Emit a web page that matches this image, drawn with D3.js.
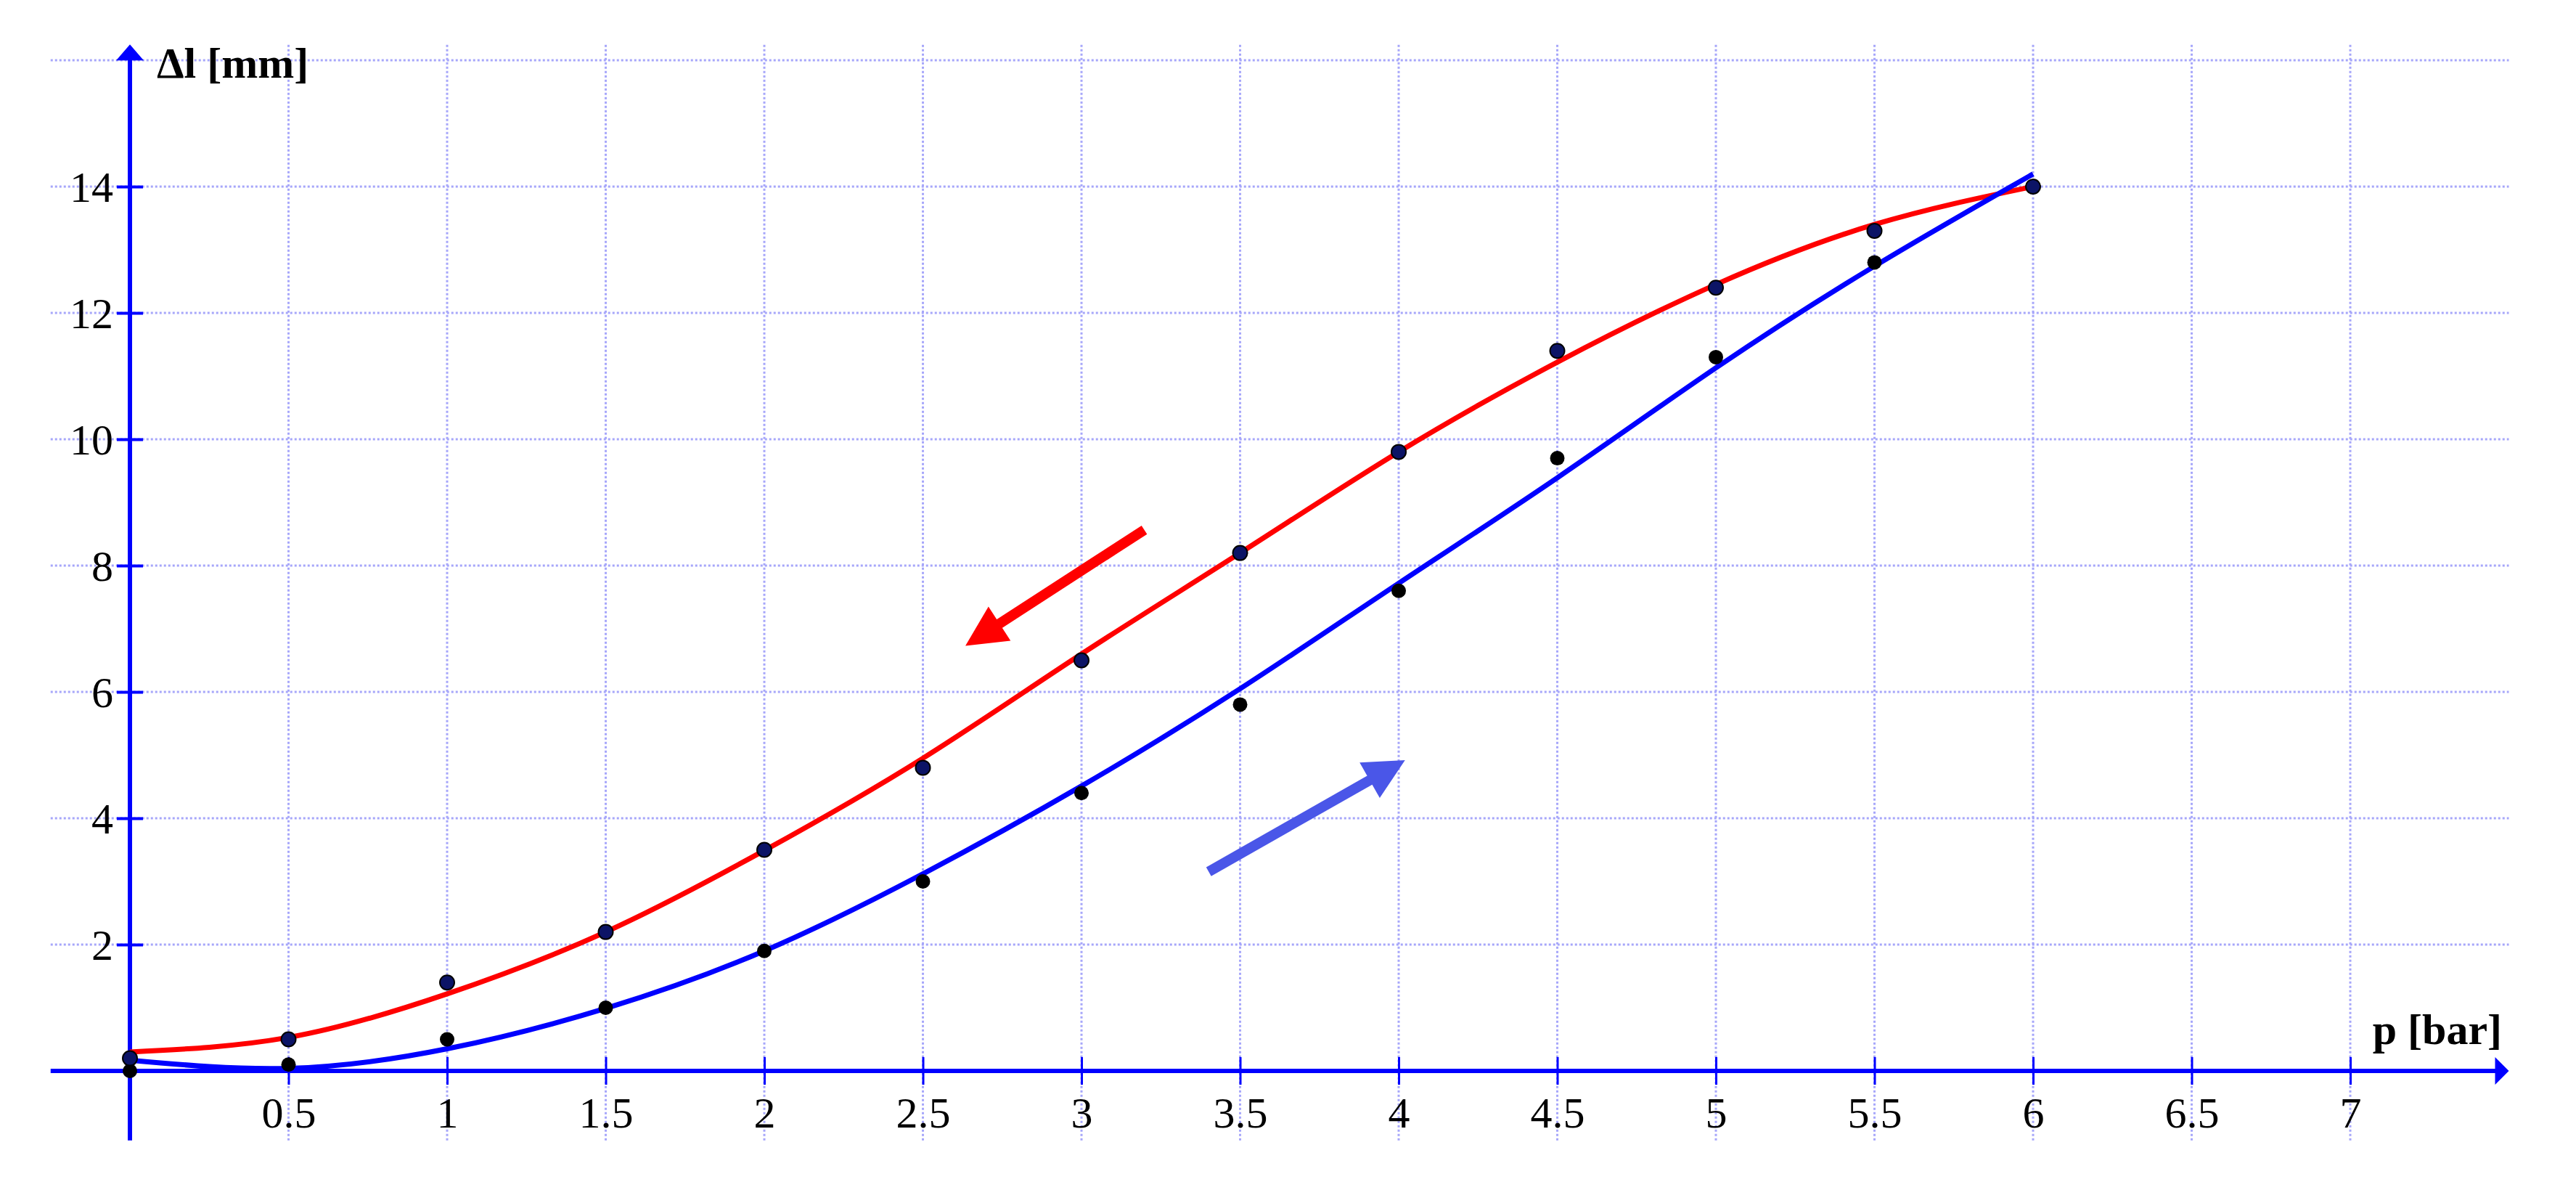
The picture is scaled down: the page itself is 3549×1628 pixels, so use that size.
<!DOCTYPE html>
<html>
<head>
<meta charset="utf-8">
<script src="https://cdn.jsdelivr.net/npm/d3@7"></script>
<style>
  body { margin: 0; background: #fff; }
  text { font-family: "Liberation Serif", "Times New Roman", serif; fill: #000; }
</style>
</head>
<body>
<div id="graph"></div>
<script>
// mesures : pression (bar) et allongement (mm)
var pressure = [0, 0.5, 1, 1.5, 2, 2.5, 3, 3.5, 4, 4.5, 5, 5.5, 6];
var loading = [0, 0.1, 0.5, 1.0, 1.9, 3.0, 4.4, 5.8, 7.6, 9.7, 11.3, 12.8, 14.0];
var unloading = [0.2, 0.5, 1.4, 2.2, 3.5, 4.8, 6.5, 8.2, 9.8, 11.4, 12.4, 13.3, 14.0];

// courbes d'ajustement
var loadingFit = [0.17, 0.04, 0.35, 0.99, 1.9, 3.12, 4.51, 6.05, 7.72, 9.39, 11.13, 12.74, 14.2];
var unloadingFit = [0.3, 0.53, 1.22, 2.2, 3.49, 4.95, 6.6, 8.2, 9.8, 11.22, 12.45, 13.4, 14.0];

// graduations
var xTicks = [0.5, 1, 1.5, 2, 2.5, 3, 3.5, 4, 4.5, 5, 5.5, 6, 6.5, 7];
var xTickLabels = ["0.5", "1", "1.5", "2", "2.5", "3", "3.5", "4", "4.5", "5", "5.5", "6", "6.5", "7"];
var yTicks = [2, 4, 6, 8, 10, 12, 14];
var yTickLabels = ["2", "4", "6", "8", "10", "12", "14"];
var yGrid = [2, 4, 6, 8, 10, 12, 14, 16];

// flèches de sens (début -> pointe), en unités du graphique
var arrowUnload = [[3.198, 8.566], [2.634, 6.73]];
var arrowLoad = [[3.401, 3.154], [4.02, 4.92]];

var totalWidth = 3549, totalHeight = 1628;

// échelles
var x = d3.scaleLinear().domain([0, 7]).range([179, 3238]);
var y = d3.scaleLinear().domain([0, 14]).range([1475, 257]);

var svg = d3.select("#graph").append("svg")
    .attr("width", totalWidth)
    .attr("height", totalHeight);

var xMin = -0.25, xMax = 7.5, yMin = -1.1, yMax = 16.25;

// grille pointillée
svg.append("g").selectAll("line").data(xTicks).enter().append("line")
    .attr("x1", function(d) { return x(d); })
    .attr("x2", function(d) { return x(d); })
    .attr("y1", y(yMin))
    .attr("y2", y(yMax))
    .attr("stroke", "#a6a6fa")
    .attr("stroke-width", 3)
    .attr("stroke-dasharray", "3,3");
svg.append("g").selectAll("line").data(yGrid).enter().append("line")
    .attr("x1", x(xMin))
    .attr("x2", x(xMax))
    .attr("y1", function(d) { return y(d); })
    .attr("y2", function(d) { return y(d); })
    .attr("stroke", "#a6a6fa")
    .attr("stroke-width", 3)
    .attr("stroke-dasharray", "3,3");

// axes
var xAxis = svg.append("g")
    .attr("transform", "translate(0," + y(0) + ")")
    .call(d3.axisBottom(x).tickValues(xTicks).tickSize(19)
        .tickFormat(function(d, i) { return xTickLabels[i]; }));
xAxis.selectAll(".tick line").attr("y1", -19).attr("stroke", "#0000ff").attr("stroke-width", 3);
xAxis.selectAll(".tick text").attr("y", 78).attr("dy", 0)
    .attr("font-size", 60).attr("fill", "#000");

var yAxis = svg.append("g")
    .attr("transform", "translate(" + x(0) + ",0)")
    .call(d3.axisLeft(y).tickValues(yTicks).tickSize(18)
        .tickFormat(function(d, i) { return yTickLabels[i]; }));
yAxis.selectAll(".tick line").attr("x1", 18).attr("stroke", "#0000ff").attr("stroke-width", 4);
yAxis.selectAll(".tick text").attr("x", -23).attr("dy", "0.34em")
    .attr("font-size", 60).attr("fill", "#000");
svg.selectAll(".domain").remove();
svg.selectAll(".tick text").style("font-family", "'Liberation Serif', serif");

svg.append("line")
    .attr("x1", x(xMin)).attr("x2", x(xMax) - 16)
    .attr("y1", y(0)).attr("y2", y(0))
    .attr("stroke", "#0000ff").attr("stroke-width", 6);
svg.append("path")
    .attr("d", "M" + x(xMax) + "," + y(0) + "L" + (x(xMax) - 19) + "," + (y(0) - 19) +
        "L" + (x(xMax) - 19) + "," + (y(0) + 19) + "Z")
    .attr("fill", "#0000ff");
svg.append("line")
    .attr("x1", x(0)).attr("x2", x(0))
    .attr("y1", y(yMin)).attr("y2", y(yMax) + 20)
    .attr("stroke", "#0000ff").attr("stroke-width", 6);
svg.append("path")
    .attr("d", "M" + x(0) + "," + y(yMax) + "L" + (x(0) - 19) + "," + (y(yMax) + 22) +
        "L" + (x(0) + 19) + "," + (y(yMax) + 22) + "Z")
    .attr("fill", "#0000ff");

// titres des axes
svg.append("text")
    .attr("x", x(0) + 37).attr("y", 107)
    .attr("font-size", 60).attr("font-weight", "bold")
    .text("Δl [mm]");
svg.append("text")
    .attr("x", 3447).attr("y", y(0) - 37)
    .attr("text-anchor", "end")
    .attr("font-size", 60).attr("font-weight", "bold")
    .text("p [bar]");

// courbes d'ajustement
var ligne = d3.line()
    .x(function(d) { return x(d[0]); })
    .y(function(d) { return y(d[1]); })
    .curve(d3.curveNatural);
svg.append("path")
    .datum(d3.zip(pressure, unloadingFit))
    .attr("fill", "none").attr("stroke", "#ff0000").attr("stroke-width", 7)
    .attr("d", ligne);
svg.append("path")
    .datum(d3.zip(pressure, loadingFit))
    .attr("fill", "none").attr("stroke", "#0000ff").attr("stroke-width", 7)
    .attr("d", ligne);

// points de mesure
svg.append("g").selectAll("circle").data(d3.zip(pressure, loading)).enter().append("circle")
    .attr("cx", function(d) { return x(d[0]); })
    .attr("cy", function(d) { return y(d[1]); })
    .attr("r", 10)
    .attr("fill", "#000");
svg.append("g").selectAll("circle").data(d3.zip(pressure, unloading)).enter().append("circle")
    .attr("cx", function(d) { return x(d[0]); })
    .attr("cy", function(d) { return y(d[1]); })
    .attr("r", 10)
    .attr("fill", "#0c1466")
    .attr("stroke", "#000")
    .attr("stroke-width", 2);

// flèches
function fleche(pts, couleur) {
    var x0 = x(pts[0][0]), y0 = y(pts[0][1]),
        x1 = x(pts[1][0]), y1 = y(pts[1][1]),
        dx = x1 - x0, dy = y1 - y0,
        len = Math.sqrt(dx * dx + dy * dy),
        ux = dx / len, uy = dy / len,
        head = 56, half = 28,
        bx = x1 - ux * head, by = y1 - uy * head;
    svg.append("line")
        .attr("x1", x0).attr("y1", y0)
        .attr("x2", bx + ux * 4).attr("y2", by + uy * 4)
        .attr("stroke", couleur).attr("stroke-width", 14);
    svg.append("path")
        .attr("d", "M" + x1 + "," + y1 +
            "L" + (bx - uy * half) + "," + (by + ux * half) +
            "L" + (bx + uy * half) + "," + (by - ux * half) + "Z")
        .attr("fill", couleur);
}
fleche(arrowUnload, "#ff0000");
fleche(arrowLoad, "#4a56e8");
</script>
</body>
</html>
